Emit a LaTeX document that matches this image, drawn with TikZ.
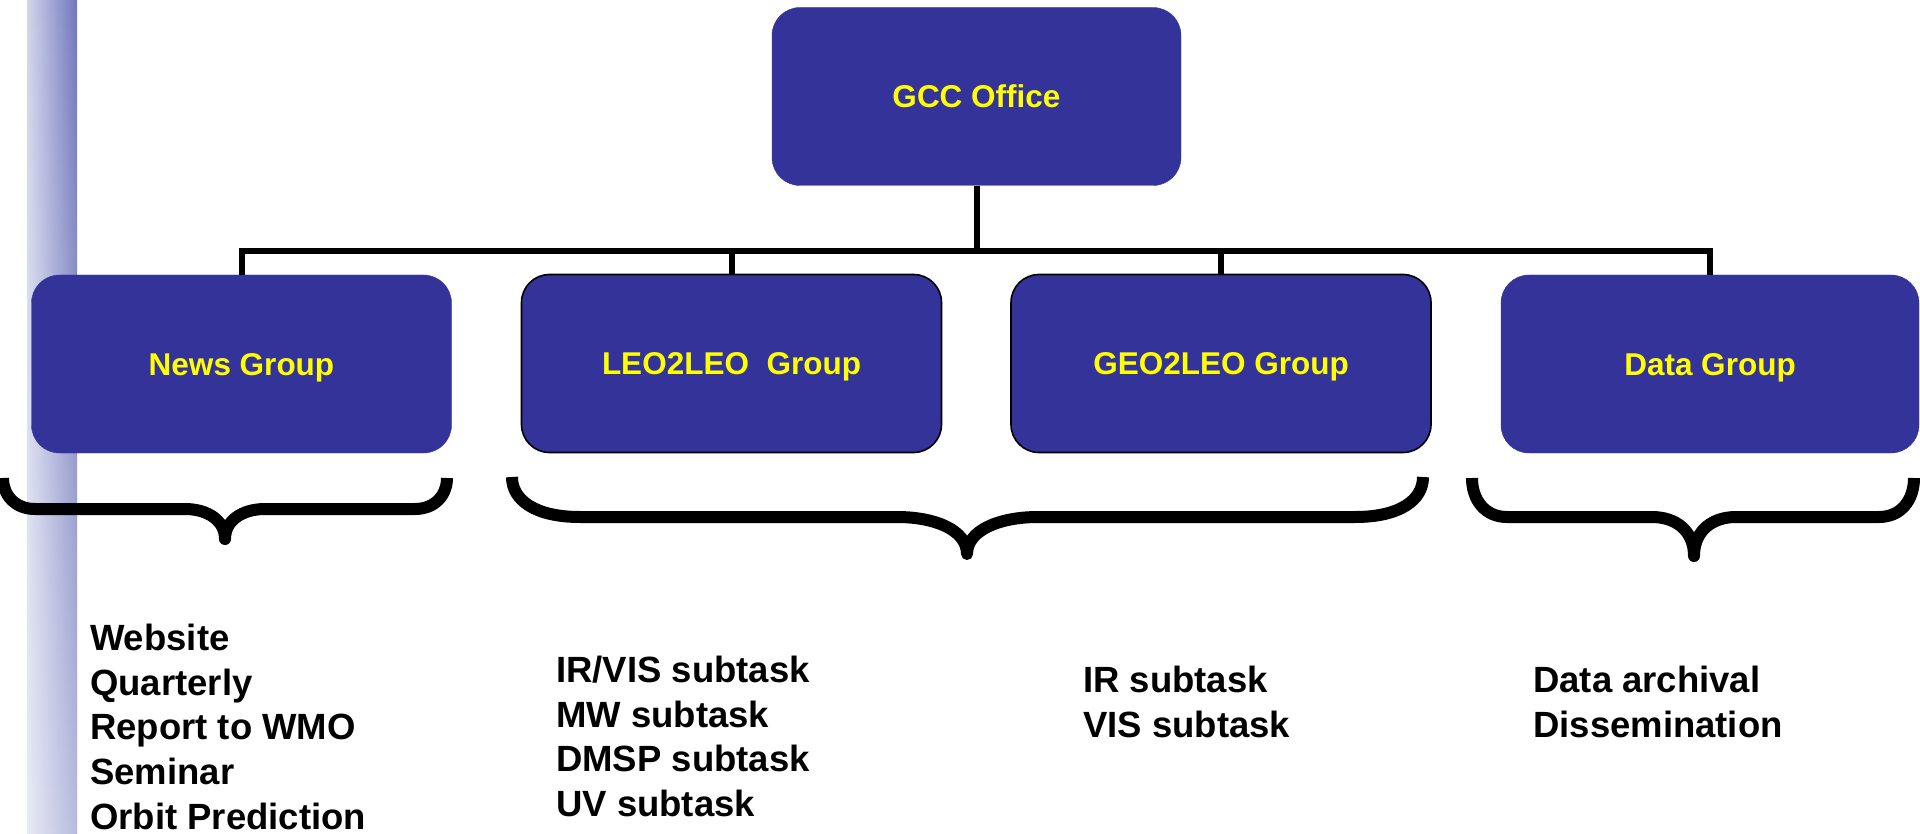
\documentclass[tikz,border=0pt]{standalone}
\usepackage{fontspec}
\setmainfont{Liberation Sans}
\usetikzlibrary{fadings}
\definecolor{boxblue}{RGB}{51,51,153}
\definecolor{txtyellow}{RGB}{255,255,0}
\definecolor{stripA}{RGB}{210,214,236}
\definecolor{stripB}{RGB}{150,165,218}
\definecolor{stripC}{RGB}{112,118,188}
\begin{document}
\begin{tikzpicture}[x=1pt,y=-1pt,
  grp/.style={rounded corners=28pt, fill=boxblue, draw=boxblue, minimum width=420pt, minimum height=178pt, inner sep=0pt, text=txtyellow, text height=22.5pt, text depth=0pt, font=\fontsize{31.5}{38}\selectfont\bfseries},
  grpb/.style={grp, draw=black, line width=1.6pt},
  link/.style={line width=6pt},
  bracepath/.style={line width=12pt, line join=round, line cap=butt},
  tasks/.style={anchor=base west, align=left, inner sep=0pt, font=\fontsize{36.5}{44.6}\selectfont\bfseries}]
\useasboundingbox (0,0) rectangle (1920,834);
\fill[white] (0,0) rectangle (1920,834);
% decorative strip
\shade[left color=stripA, middle color=stripB, right color=stripC] (27,0) rectangle (77,834);
\fill[white, opacity=0.5, path fading=north] (27,0) rectangle (77,834);
% boxes
\node[grp, minimum width=409pt] (gcc) at (976.5,96.5) {GCC Office};
\node[grp] (news) at (241.5,364) {News Group};
\node[grpb] (leo) at (731.5,363.5) {LEO2LEO~~Group};
\node[grpb] (geo) at (1221,363.5) {GEO2LEO Group};
\node[grp, minimum width=418pt] (data) at (1710,364) {Data Group};
% connectors
\coordinate (bus) at (977,251);
\draw[link] (gcc.south) -- (gcc.south |- bus);
\draw[link] (news.north) |- (bus) -| (data.north);
\draw[link] (leo.north) -- (leo.north |- bus);
\draw[link] (geo.north) -- (geo.north |- bus);
% braces
\draw[bracepath] (3,478) .. controls (3,495) and (15,509) .. (35,509) -- (185,509)
  .. controls (207,509) and (225,520) .. (225,539)
  .. controls (225,520) and (243,509) .. (265,509) -- (415,509)
  .. controls (435,509) and (447,495) .. (447,478);
\draw[bracepath] (512,477) .. controls (512,500) and (535,517) .. (580,517) -- (897,517)
  .. controls (935,517) and (967,530) .. (967,554)
  .. controls (967,530) and (1000,517) .. (1038,517) -- (1355,517)
  .. controls (1400,517) and (1423,500) .. (1423,477);
\draw[bracepath] (1472,478) .. controls (1472,500) and (1485,517) .. (1507,517) -- (1652,517)
  .. controls (1675,517) and (1694,530) .. (1694,556)
  .. controls (1694,530) and (1713,517) .. (1736,517) -- (1879,517)
  .. controls (1901,517) and (1914,500) .. (1914,478);
% task lists (anchored at the baseline of the last line)
\node[tasks] (newstasks) at (90,829) {Website\\Quarterly\\Report to WMO\\Seminar\\Orbit Prediction};
\node[tasks] (leotasks) at (556,816.5) {IR/VIS subtask\\MW subtask\\DMSP subtask\\UV subtask};
\node[tasks] (geotasks) at (1083,737) {IR subtask\\VIS subtask};
\node[tasks] (datatasks) at (1533,737) {Data archival\\Dissemination};
\end{tikzpicture}
\end{document}
